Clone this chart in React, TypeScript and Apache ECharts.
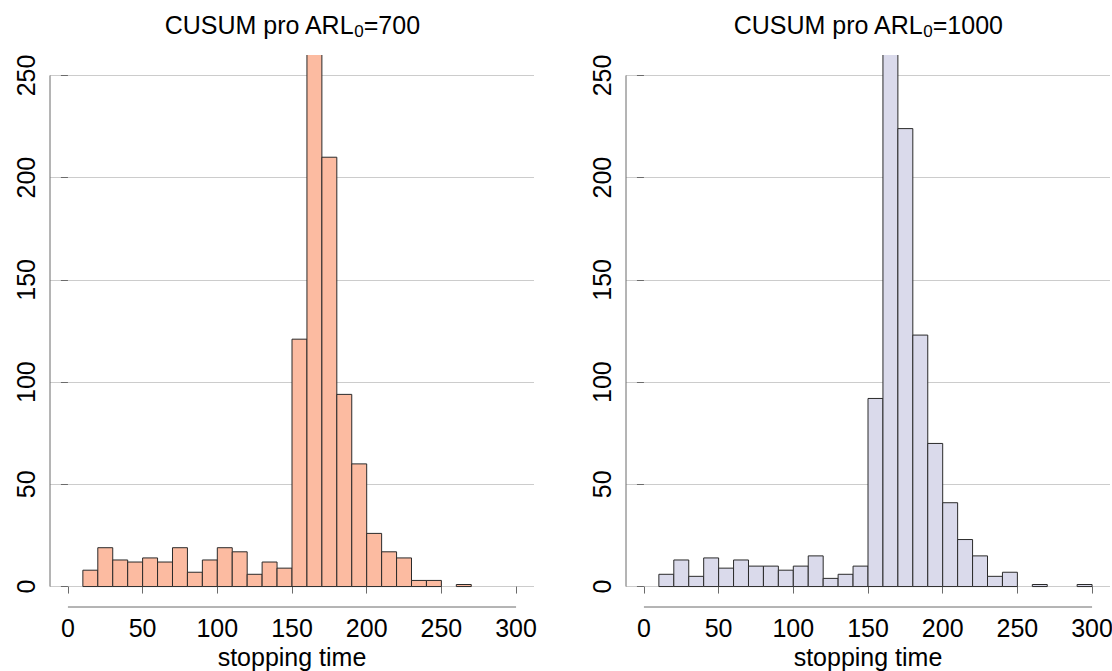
import React, { useEffect, useRef } from "react";
import * as echarts from "echarts";

// Histogram bin edges (stopping time)
const binEdges = [10, 20, 30, 40, 50, 60, 70, 80, 90, 100, 110, 120, 130, 140, 150, 160, 170, 180, 190, 200, 210, 220, 230, 240, 250, 260, 270, 280, 290, 300];
// Counts per bin, CUSUM with ARL0 = 700
const countsARL700 = [8, 19, 13, 12, 14, 12, 19, 7, 13, 19, 17, 6, 12, 9, 121, 271, 210, 94, 60, 26, 17, 14, 3, 3, 0, 1, 0, 0, 0];
// Counts per bin, CUSUM with ARL0 = 1000
const countsARL1000 = [6, 13, 5, 14, 9, 13, 10, 10, 8, 10, 15, 4, 6, 10, 92, 265, 224, 123, 70, 41, 23, 15, 5, 7, 0, 1, 0, 0, 1];
const xTicks = [0, 50, 100, 150, 200, 250, 300];
const yTicks = [0, 50, 100, 150, 200, 250];
const arlLabels = ["700", "1000"];

const X_MIN = -12;
const X_MAX = 312;
const Y_MIN = -10;
const Y_MAX = 260;

const FONT = '"Liberation Sans", Arial, sans-serif';
const AX = "#6b6b6b";

export default function App() {
  const ref = useRef<HTMLDivElement>(null);
  useEffect(() => {
    if (!ref.current) return;
    const chart = echarts.init(ref.current, null, { renderer: "svg" });
    const panels = [
      { left: 50, counts: countsARL700, fill: "#FCBBA1", arl: arlLabels[0] },
      { left: 626, counts: countsARL1000, fill: "#DADAEB", arl: arlLabels[1] },
    ];
    const gridW = 484;
    const series: any[] = [];
    panels.forEach((p, i) => {
      const data = p.counts
        .map((c, k) => [binEdges[k], binEdges[k + 1], c])
        .filter((d) => d[2] > 0);
      series.push({
        type: "custom",
        xAxisIndex: i,
        yAxisIndex: i,
        clip: true,
        silent: true,
        encode: { x: [0, 1], y: 2 },
        data,
        renderItem: (params: any, api: any) => {
          const p0 = api.coord([api.value(0), 0]);
          const p1 = api.coord([api.value(1), api.value(2)]);
          return {
            type: "rect",
            shape: { x: p0[0], y: p1[1], width: p1[0] - p0[0], height: p0[1] - p1[1] },
            style: { fill: p.fill, stroke: "#2a2a2a", lineWidth: 1 },
          };
        },
      });
      series.push({
        type: "line",
        xAxisIndex: i,
        yAxisIndex: i,
        clip: false,
        silent: true,
        symbol: "none",
        lineStyle: { color: AX, width: 1 },
        data: [
          [X_MIN, yTicks[0]],
          [X_MIN, yTicks[yTicks.length - 1]],
        ],
      });
      series.push({
        type: "line",
        xAxisIndex: i,
        yAxisIndex: i,
        clip: false,
        silent: true,
        symbol: "none",
        lineStyle: { color: AX, width: 1 },
        data: [
          [xTicks[0], Y_MIN],
          [xTicks[xTicks.length - 1], Y_MIN],
        ],
      });
    });

    chart.setOption({
      animation: false,
      backgroundColor: "#ffffff",
      title: panels.map((p) => ({
        text: `CUSUM pro ARL{sub|0}=${p.arl}`,
        left: p.left + gridW / 2,
        top: 10,
        padding: 0,
        textAlign: "center",
        textStyle: {
          fontSize: 25,
          fontWeight: "normal",
          color: "#000",
          fontFamily: FONT,
          lineHeight: 30,
          rich: {
            sub: { fontSize: 17, lineHeight: 16, verticalAlign: "bottom", color: "#000", fontFamily: FONT },
          },
        },
      })),
      grid: panels.map((p) => ({
        left: p.left,
        top: 55,
        width: gridW,
        height: 552,
        containLabel: false,
        outerBoundsMode: "none",
      })),
      xAxis: panels.map((p, i) => ({
        type: "value",
        gridIndex: i,
        min: X_MIN,
        max: X_MAX,
        axisLine: { show: false },
        splitLine: { show: false },
        axisTick: { show: true, length: 7, customValues: xTicks, lineStyle: { color: AX } },
        axisLabel: { customValues: xTicks, fontSize: 25, color: "#000", margin: 8, fontFamily: FONT },
        name: "stopping time",
        nameLocation: "middle",
        nameGap: 33,
        nameTextStyle: { fontSize: 25, color: "#000", fontFamily: FONT },
      })),
      yAxis: panels.map((p, i) => ({
        type: "value",
        gridIndex: i,
        min: Y_MIN,
        max: Y_MAX,
        axisLine: { show: false },
        axisTick: { show: true, length: 7, customValues: yTicks, lineStyle: { color: AX } },
        axisLabel: { customValues: yTicks, rotate: 90, fontSize: 25, color: "#000", margin: 12, fontFamily: FONT },
        splitLine: { show: true, lineStyle: { color: "#cccccc", width: 1 } },
      })),
      series,
    });
    return () => chart.dispose();
  }, []);
  return <div ref={ref} style={{ position: "fixed", left: 0, top: 0, width: 1112, height: 671 }} />;
}
